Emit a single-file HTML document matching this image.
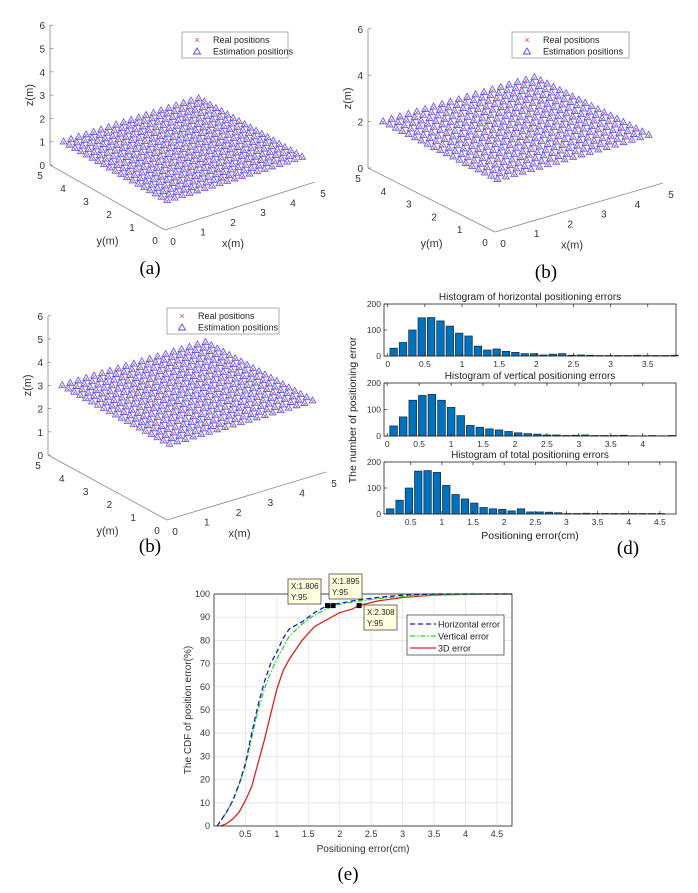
<!DOCTYPE html>
<html><head><meta charset="utf-8"><style>
html,body{margin:0;padding:0;background:#fff;}
svg{display:block;font-family:"Liberation Sans",sans-serif;}
</style></head><body>
<svg id="fig" width="698" height="893" viewBox="0 0 698 893" xmlns="http://www.w3.org/2000/svg">
<rect width="698" height="893" fill="#fff"/>
<g id="p3d"></g>
<g id="hist"></g>
<g id="cdf"></g>
<text x="150" y="274" font-family="Liberation Serif,serif" font-size="19" text-anchor="middle">(a)</text>
<text x="546" y="278" font-family="Liberation Serif,serif" font-size="19" text-anchor="middle">(b)</text>
<text x="150" y="552" font-family="Liberation Serif,serif" font-size="19" text-anchor="middle">(b)</text>
<text x="628" y="554" font-family="Liberation Serif,serif" font-size="19" text-anchor="middle">(d)</text>
<text x="348" y="880" font-family="Liberation Serif,serif" font-size="19" text-anchor="middle">(e)</text>
</svg>
<script>
const NS="http://www.w3.org/2000/svg";
// ---- 3D scatter data ----
const gridCoords=[0.3,0.55,0.8,1.05,1.3,1.55,1.8,2.05,2.3,2.55,2.8,3.05,3.3,3.55,3.8,4.05,4.3,4.55,4.8];
const planeHeights=[1,2,3];
const zTicks3dA=[0,1,2,3,4,5,6];
const zTicks3dB=[0,2,4,6];
const xyTicks=[0,1,2,3,4,5];
// ---- histogram data ----
const histHStart=0.08, histHWidth=0.126;
const histHCounts=[30,52,100,147,148,135,115,88,77,38,23,27,18,14,9,9,4,7,9,3,4,3,2,2,2,2,3,2,2,2,3];
const histVStart=0.1, histVWidth=0.15;
const histVCounts=[38,72,135,153,157,135,108,77,40,33,27,23,17,12,9,7,4,4,2,3,4,2,2,2,3,1,1,2,1,2];
const histTStart=0.17, histTWidth=0.15;
const histTCounts=[20,53,100,165,167,160,110,75,58,42,25,20,18,12,20,8,8,7,5,2,2,3,2,2,2,2,2,2,2,2];
const histHTicks=[0,0.5,1,1.5,2,2.5,3,3.5];
const histVTicks=[0,0.5,1,1.5,2,2.5,3,3.5,4];
const histTTicks=[0.5,1,1.5,2,2.5,3,3.5,4,4.5];
const histYTicks=[0,100,200];
// ---- CDF data ----
const cdfHx=[0.05,0.1,0.2,0.3,0.4,0.5,0.6,0.7,0.8,0.9,1.0,1.1,1.2,1.4,1.6,1.8,2.0,2.3,2.6,3.0,3.5,4.74];
const cdfHy=[0,2,6,11,18,27,40,52,62,70,75,81,85,88,92,95,96,97.5,98.5,99.5,100,100];
const cdfVx=[0.05,0.1,0.2,0.3,0.4,0.5,0.6,0.7,0.8,0.9,1.0,1.1,1.2,1.4,1.6,1.9,2.2,2.6,3.0,3.5,4.5,4.74];
const cdfVy=[0,2,6,11,18,26,38,50,59,66,72,77,82,87,91,95,96.5,98,99,99.5,100,100];
const cdf3x=[0.1,0.2,0.3,0.4,0.5,0.6,0.7,0.8,0.9,1.0,1.1,1.2,1.4,1.6,1.8,2.0,2.2,2.3,2.6,3.0,3.5,4.0,4.74];
const cdf3y=[0,1,3,6,11,17,27,37,48,59,67,72,80,86,89,92,93.5,95,97,98.5,99.5,100,100];
const tipX=[1.806,1.895,2.308];
const tipY=[95,95,95];
const cdfXTicks=[0.5,1,1.5,2,2.5,3,3.5,4,4.5];
const cdfYTicks=[0,10,20,30,40,50,60,70,80,90,100];

function el(tag,attrs,parent,txt){const e=document.createElementNS(NS,tag);for(const k in attrs)e.setAttribute(k,attrs[k]);if(txt!==undefined)e.textContent=txt;parent.appendChild(e);return e;}

function plot3d(cfg,h,zt,name){
  const g=el('g',{},document.getElementById('p3d'));
  
  
  const P=(x,y,z)=>[cfg.O[0]+x*cfg.ux[0]+y*cfg.uy[0], cfg.O[1]+x*cfg.ux[1]+y*cfg.uy[1]-z*cfg.uz];
  const ln=(a,b)=>el('line',{x1:a[0],y1:a[1],x2:b[0],y2:b[1],stroke:'#888','stroke-width':0.8},g);
  ln(P(0,5,0),P(0,5,6)); ln(P(0,0,0),P(0,5,0)); ln(P(0,0,0),P(5,0,0));
  zt.forEach(v=>{const p=P(0,5,v);el('line',{x1:p[0],y1:p[1],x2:p[0]+3,y2:p[1],stroke:'#888','stroke-width':0.8},g);
    el('text',{x:p[0]-5,y:p[1]+4,'font-size':10,fill:'#333','text-anchor':'end'},g,String(v));});
  xyTicks.forEach(v=>{let p=P(0,v,0);el('text',{x:p[0]-10,y:p[1]+14,'font-size':10,fill:'#333','text-anchor':'middle'},g,String(v));
    p=P(v,0,0);el('text',{x:p[0]+8,y:p[1]+15,'font-size':10,fill:'#333','text-anchor':'middle'},g,String(v));});
  let m=P(0,2.5,0);el('text',{x:m[0],y:m[1]+47,'font-size':11,fill:'#333','text-anchor':'middle'},g,'y(m)');
  m=P(2.5,0,0);el('text',{x:m[0]-7,y:m[1]+41,'font-size':11,fill:'#333','text-anchor':'middle'},g,'x(m)');
  m=P(0,5,3);el('text',{x:m[0]-17,y:m[1],'font-size':11,fill:'#333','text-anchor':'middle',transform:`rotate(-90 ${m[0]-17} ${m[1]})`},g,'z(m)');
  const pts=el('g',{},g);
  
  
  for(let i=gridCoords.length-1;i>=0;i--)for(let j=gridCoords.length-1;j>=0;j--){
    const p=P(gridCoords[j],gridCoords[i],h);
    el('path',{d:`M${p[0]-3.4},${p[1]+2.6}L${p[0]},${p[1]-3.4}L${p[0]+3.4},${p[1]+2.6}Z`,fill:'none',stroke:'#5050ff','stroke-width':0.8},pts);
    el('path',{d:`M${p[0]-1.2},${p[1]-0.2}l2.4,2.4M${p[0]+1.2},${p[1]-0.2}l-2.4,2.4`,stroke:'#e05050','stroke-width':0.6},pts);
  }
  const L=cfg.leg;
  const lg=el('g',{},g);
  
  
  el('rect',{x:L[0],y:L[1],width:L[2],height:26,fill:'#fff',stroke:'#999','stroke-width':0.8},lg);
  el('text',{x:L[0]+15,y:L[1]+11,'font-size':9,fill:'#e04040','text-anchor':'middle'},lg,'×');
  el('text',{x:L[0]+31,y:L[1]+11,'font-size':9,fill:'#222'},lg,'Real positions');
  el('path',{d:`M${L[0]+11.5},${L[1]+22}L${L[0]+15},${L[1]+16}L${L[0]+18.5},${L[1]+22}Z`,fill:'none',stroke:'#4a4aff','stroke-width':0.9},lg);
  el('text',{x:L[0]+31,y:L[1]+22.5,'font-size':9,fill:'#222'},lg,'Estimation positions');
}
plot3d({O:[165,230],ux:[30,-9.6],uy:[-23,-13],uz:23.3,leg:[182,32,106]},planeHeights[0],zTicks3dA,'plot-a');
plot3d({O:[495,232],ux:[33.6,-9.8],uy:[-25.4,-12.8],uz:23.2,leg:[512,32,117]},planeHeights[1],zTicks3dB,'plot-b-top');
plot3d({O:[167,520],ux:[31.8,-9.6],uy:[-23.8,-13],uz:23.2,leg:[167,308,112]},planeHeights[2],zTicks3dA,'plot-b-bottom');

// ---- histograms ----
function hist(cfg,start,w,counts,ticks,title,name){
  const g=el('g',{},document.getElementById('hist'));
  
  
  const X=v=>cfg.L+(v-cfg.x0)/(cfg.x1-cfg.x0)*(cfg.R-cfg.L);
  const Y=v=>cfg.B-v/200*(cfg.B-cfg.T);
  counts.forEach((c,i)=>{const a=X(start+i*w-w*0.4),b=X(start+i*w+w*0.4);
    const r=el('rect',{x:a,y:Y(c),width:b-a,height:Y(0)-Y(c),fill:'#0072bd',stroke:'#1a2a3a','stroke-width':0.7},g);
    
    });
  el('rect',{x:cfg.L,y:cfg.T,width:cfg.R-cfg.L,height:cfg.B-cfg.T,fill:'none',stroke:'#222','stroke-width':0.8},g);
  histYTicks.forEach(v=>{el('text',{x:cfg.L-3,y:Y(v)+3,'font-size':8.5,fill:'#333','text-anchor':'end'},g,String(v));
    el('line',{x1:cfg.L,y1:Y(v),x2:cfg.L+3,y2:Y(v),stroke:'#222','stroke-width':0.7},g);});
  ticks.forEach(v=>{const x=X(v);el('text',{x:x,y:cfg.B+11,'font-size':8.5,fill:'#333','text-anchor':'middle'},g,String(v));
    el('line',{x1:x,y1:cfg.B,x2:x,y2:cfg.B-3,stroke:'#222','stroke-width':0.7},g);
    el('line',{x1:x,y1:cfg.T,x2:x,y2:cfg.T+3,stroke:'#222','stroke-width':0.7},g);});
  el('text',{x:(cfg.L+cfg.R)/2,y:cfg.T-4,'font-size':10,fill:'#222','text-anchor':'middle'},g,title);
}
hist({L:384,R:676,T:304,B:356,x0:-0.05,x1:3.88},histHStart,histHWidth,histHCounts,histHTicks,'Histogram of horizontal positioning errors','hist-horizontal');
hist({L:384,R:676,T:383,B:436,x0:-0.05,x1:4.52},histVStart,histVWidth,histVCounts,histVTicks,'Histogram of vertical positioning errors','hist-vertical');
hist({L:384,R:676,T:462,B:514,x0:0.07,x1:4.76},histTStart,histTWidth,histTCounts,histTTicks,'Histogram of total positioning errors','hist-total');
(function(){const g=document.getElementById('hist');
  el('text',{x:530,y:539,'font-size':10.5,fill:'#222','text-anchor':'middle'},g,'Positioning error(cm)');
  el('text',{x:356,y:410,'font-size':10.5,fill:'#222','text-anchor':'middle',transform:'rotate(-90 356 410)'},g,'The number of positioning error');})();

// ---- CDF ----
(function(){
  const g=document.getElementById('cdf');
  
  
  const L=214,R=512,T=594,B=826,x0=0,x1=4.74;
  const X=v=>L+(v-x0)/(x1-x0)*(R-L), Y=v=>B-v/100*(B-T);
  el('rect',{x:L,y:T,width:R-L,height:B-T,fill:'#fff'},g);
  cdfXTicks.forEach(v=>{el('line',{x1:X(v),y1:T,x2:X(v),y2:B,stroke:'#e3e3e3','stroke-width':0.8},g);
    el('text',{x:X(v),y:B+11,'font-size':9,fill:'#333','text-anchor':'middle'},g,String(v));});
  cdfYTicks.forEach(v=>{el('line',{x1:L,y1:Y(v),x2:R,y2:Y(v),stroke:'#e3e3e3','stroke-width':0.8},g);
    el('text',{x:L-4,y:Y(v)+3,'font-size':9,fill:'#333','text-anchor':'end'},g,String(v));});
  const line=(xs,ys,col,dash,nm)=>{const p=el('polyline',{points:xs.map((x,i)=>X(x)+','+Y(ys[i])).join(' '),fill:'none',stroke:col,'stroke-width':1.3,'stroke-dasharray':dash},g);
    
    };
  line(cdf3x,cdf3y,'#e02020','none','line-3d-error');
  line(cdfVx,cdfVy,'#22dd22','5 2 1.5 2','line-vertical-error');
  line(cdfHx,cdfHy,'#1a1acc','5 3','line-horizontal-error');
  el('rect',{x:L,y:T,width:R-L,height:B-T,fill:'none',stroke:'#222','stroke-width':0.8},g);
  tipX.forEach((x,i)=>{el('rect',{x:X(x)-2.5,y:Y(tipY[i])-2.5,width:5,height:5,fill:'#000'},g);});
  const tipBoxes=[[288,579],[329,574],[364,605]];
  tipX.forEach((x,i)=>{const b=tipBoxes[i];const tg=el('g',{},g);
    
    
    el('rect',{x:b[0],y:b[1],width:33,height:25,fill:'#ffffe0',stroke:'#333','stroke-width':0.7},tg);
    el('text',{x:b[0]+3,y:b[1]+10,'font-size':8,fill:'#222'},tg,'X:'+x);
    el('text',{x:b[0]+3,y:b[1]+21,'font-size':8,fill:'#222'},tg,'Y:'+tipY[i]);});
  const lg=el('g',{},g);
  
  
  el('rect',{x:407,y:615,width:97,height:40,fill:'#fff',stroke:'#333','stroke-width':0.7},lg);
  const ent=[['Horizontal error','#1a1acc','5 3'],['Vertical error','#22dd22','5 2 1.5 2'],['3D error','#e02020','none']];
  ent.forEach((e,i)=>{const y=624+i*12;el('line',{x1:410,y1:y,x2:436,y2:y,stroke:e[1],'stroke-width':1.3,'stroke-dasharray':e[2]},lg);
    el('text',{x:438,y:y+3.5,'font-size':9,fill:'#222'},lg,e[0]);});
  el('text',{x:363,y:852,'font-size':10,fill:'#333','text-anchor':'middle'},g,'Positioning error(cm)');
  el('text',{x:191,y:710,'font-size':10,fill:'#333','text-anchor':'middle',transform:'rotate(-90 191 710)'},g,'The CDF of position error(%)');
})();
</script>
</body></html>
